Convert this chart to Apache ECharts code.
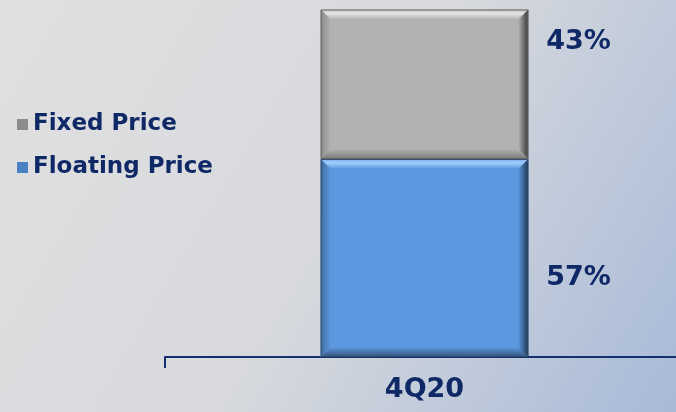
<!DOCTYPE html>
<html>
<head>
<meta charset="utf-8">
<script src="https://cdn.jsdelivr.net/npm/echarts@6/dist/echarts.min.js"></script>
<style>
  html, body { margin: 0; padding: 0; overflow: hidden; }
  #chart { width: 690px; height: 412px; }
</style>
</head>
<body>
<div id="chart"></div>
<script>
// Pricing mix for the quarter (share of volume, %)
const categories = ['4Q20'];
const floatingPrice = [57];
const fixedPrice = [43];
const seriesNames = ['Fixed Price', 'Floating Price'];

const NAVY = '#0f2866';
const FONT = '"DejaVu Sans", Verdana, sans-serif';

// Bevelled block drawn between two stacked values
function bevelBar(palette, labelPlace) {
  return function (params, api) {
    const cat = api.value(0);
    const base = api.value(2);
    const top = base + api.value(1);
    const pTop = api.coord([cat, top]);
    const pBase = api.coord([cat, base]);
    const w = api.size([1, 0])[0] * 0.40;
    const x0 = pTop[0] - w / 2, x1 = pTop[0] + w / 2;
    const y0 = pTop[1], y1 = pBase[1];
    const b = 10;
    const poly = (pts, fill) => ({ type: 'polygon', shape: { points: pts }, style: { fill: fill }, silent: true });
    const lg = (x, y, x2, y2, stops) => new echarts.graphic.LinearGradient(x, y, x2, y2, stops);
    const labelY = labelPlace.fromTop != null ? y0 + labelPlace.fromTop : y1 - labelPlace.fromBottom;
    return {
      type: 'group',
      children: [
        { type: 'rect', shape: { x: x0, y: y0, width: x1 - x0, height: y1 - y0 }, style: { fill: palette.main } },
        poly([[x0, y0], [x1, y0], [x1 - b, y0 + b], [x0 + b, y0 + b]],
          lg(0, 0, 0, 1, [{ offset: 0, color: palette.topA }, { offset: 0.4, color: palette.topB }, { offset: 1, color: palette.main }])),
        poly([[x0, y1], [x1, y1], [x1 - b, y1 - b], [x0 + b, y1 - b]],
          lg(0, 0, 0, 1, [{ offset: 0, color: palette.main }, { offset: 1, color: palette.bottom }])),
        poly([[x0, y0], [x0 + b, y0 + b], [x0 + b, y1 - b], [x0, y1]],
          lg(0, 0, 1, 0, [{ offset: 0, color: palette.left }, { offset: 1, color: palette.main }])),
        poly([[x1, y0], [x1 - b, y0 + b], [x1 - b, y1 - b], [x1, y1]],
          lg(0, 0, 1, 0, [{ offset: 0, color: palette.main }, { offset: 1, color: palette.right }])),
        { type: 'rect', shape: { x: x0 + 0.5, y: y0 + 0.5, width: x1 - x0 - 1, height: y1 - y0 - 1 },
          style: { fill: null, stroke: palette.edge, lineWidth: 1 }, silent: true },
        { type: 'text', x: x1 + 18, y: labelY,
          style: { text: api.value(1) + '%', fill: NAVY, font: 'bold 27px ' + FONT, textVerticalAlign: 'middle', textAlign: 'left' } }
      ]
    };
  };
}

const grayPalette = { main: '#b2b2b2', topA: '#c4c4c4', topB: '#e4e4e4', bottom: '#7a7a7a', left: '#8a8a8a', right: '#363636', edge: '#666666' };
const bluePalette = { main: '#5c98df', topA: '#79adec', topB: '#a0ccff', bottom: '#34527a', left: '#426c9c', right: '#1f3450', edge: '#2f4b6c' };

const chart = echarts.init(document.getElementById('chart'), null, { renderer: 'canvas' });
chart.setOption({
  animation: false,
  backgroundColor: new echarts.graphic.LinearGradient(0, 0, 1, 1, [
    { offset: 0, color: '#e0e0e0' },
    { offset: 0.5, color: '#d7d9dd' },
    { offset: 1, color: '#a6b9d8' }
  ]),
  grid: { left: 165, right: 6, top: 9.5, bottom: 55 },
  legend: {
    orient: 'vertical',
    left: 12,
    top: 108,
    itemWidth: 11,
    itemHeight: 11,
    itemGap: 20,
    icon: 'rect',
    data: seriesNames,
    textStyle: { color: NAVY, fontSize: 23, fontWeight: 'bold', fontFamily: FONT, padding: [0, 0, 0, 0] }
  },
  xAxis: {
    type: 'category',
    data: categories,
    axisLine: { lineStyle: { color: '#14306e', width: 2 } },
    axisTick: { show: true, length: 11, lineStyle: { color: '#14306e', width: 2 } },
    axisLabel: { color: NAVY, fontSize: 27, fontWeight: 'bold', fontFamily: FONT, margin: 19 }
  },
  yAxis: { type: 'value', min: 0, max: 100, show: false, splitLine: { show: false } },
  series: [
    {
      name: 'Floating Price',
      type: 'custom',
      itemStyle: { color: '#4a80c4' },
      renderItem: bevelBar(bluePalette, { fromBottom: 79 }),
      encode: { x: 0, y: 1 },
      data: categories.map((c, i) => [i, floatingPrice[i], 0]),
      z: 2
    },
    {
      name: 'Fixed Price',
      type: 'custom',
      itemStyle: { color: '#8c8c8c' },
      renderItem: bevelBar(grayPalette, { fromTop: 32 }),
      encode: { x: 0, y: 1 },
      data: categories.map((c, i) => [i, fixedPrice[i], floatingPrice[i]]),
      z: 2
    }
  ]
});
</script>
</body>
</html>
